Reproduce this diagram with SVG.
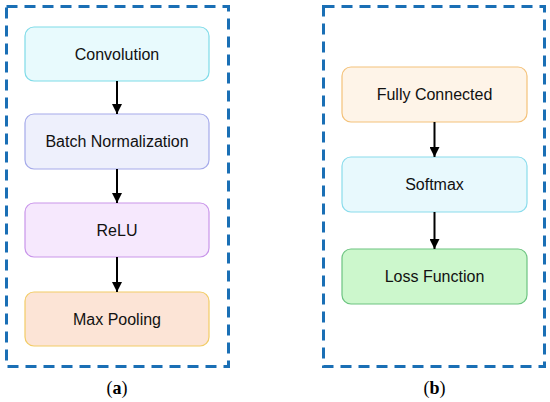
<svg xmlns="http://www.w3.org/2000/svg" width="550" height="402" viewBox="0 0 550 402">
<defs>
<marker id="ah" viewBox="0 0 10 10" refX="10" refY="5" markerWidth="5" markerHeight="5" orient="auto" markerUnits="strokeWidth">
<path d="M0,0 L10,5 L0,10 z" fill="#000"/>
</marker>
<style>
.frame{fill:none;stroke:#1a6fb5;stroke-width:3;stroke-dasharray:11,7}
.node{stroke-width:1.2}
.lbl{font-family:"Liberation Sans",Arial,sans-serif;font-size:16px;fill:#111;text-anchor:middle;dominant-baseline:central}
.cap{font-family:"Liberation Serif","Times New Roman",serif;font-size:18px;fill:#000;text-anchor:middle}
.arr{stroke:#000;stroke-width:2;fill:none;marker-end:url(#ah)}
</style>
</defs>
<rect width="550" height="402" fill="#fff"/>
<rect class="frame" x="6.5" y="6.5" width="222" height="360"/>
<rect class="frame" x="323.5" y="6.5" width="221" height="360"/>
<g id="conv"><rect class="node" x="25" y="27" width="184" height="54" rx="9" fill="#e8fafd" stroke="#7fdbe8"/><text class="lbl" x="117" y="54">Convolution</text></g>
<g id="bn"><rect class="node" x="25" y="114" width="184" height="55" rx="9" fill="#eef0fc" stroke="#a5aaea"/><text class="lbl" x="117" y="141.5">Batch Normalization</text></g>
<g id="relu"><rect class="node" x="25" y="203" width="184" height="54" rx="9" fill="#f6e8fd" stroke="#c995ea"/><text class="lbl" x="117" y="230">ReLU</text></g>
<g id="maxpool"><rect class="node" x="25" y="292" width="184" height="54" rx="9" fill="#fce4d6" stroke="#f2cc66"/><text class="lbl" x="117" y="319">Max Pooling</text></g>
<g id="fc"><rect class="node" x="342" y="67" width="185" height="55" rx="9" fill="#fef4e8" stroke="#f4c27a"/><text class="lbl" x="434.5" y="94.5">Fully Connected</text></g>
<g id="softmax"><rect class="node" x="342" y="157" width="185" height="55" rx="9" fill="#e8f9fd" stroke="#8adcec"/><text class="lbl" x="434.5" y="184.5">Softmax</text></g>
<g id="loss"><rect class="node" x="342" y="249" width="185" height="55" rx="9" fill="#ccf7cc" stroke="#6cc480"/><text class="lbl" x="434.5" y="276.5">Loss Function</text></g>
<g id="connectors">
<line class="arr" x1="117" y1="81" x2="117" y2="114"/>
<line class="arr" x1="117" y1="169" x2="117" y2="203"/>
<line class="arr" x1="117" y1="257" x2="117" y2="292"/>
<line class="arr" x1="434.5" y1="122" x2="434.5" y2="157"/>
<line class="arr" x1="434.5" y1="212" x2="434.5" y2="249"/>
</g>
<text class="cap" x="117" y="394">(<tspan font-weight="bold">a</tspan>)</text>
<text class="cap" x="434.5" y="394">(<tspan font-weight="bold">b</tspan>)</text>
</svg>
